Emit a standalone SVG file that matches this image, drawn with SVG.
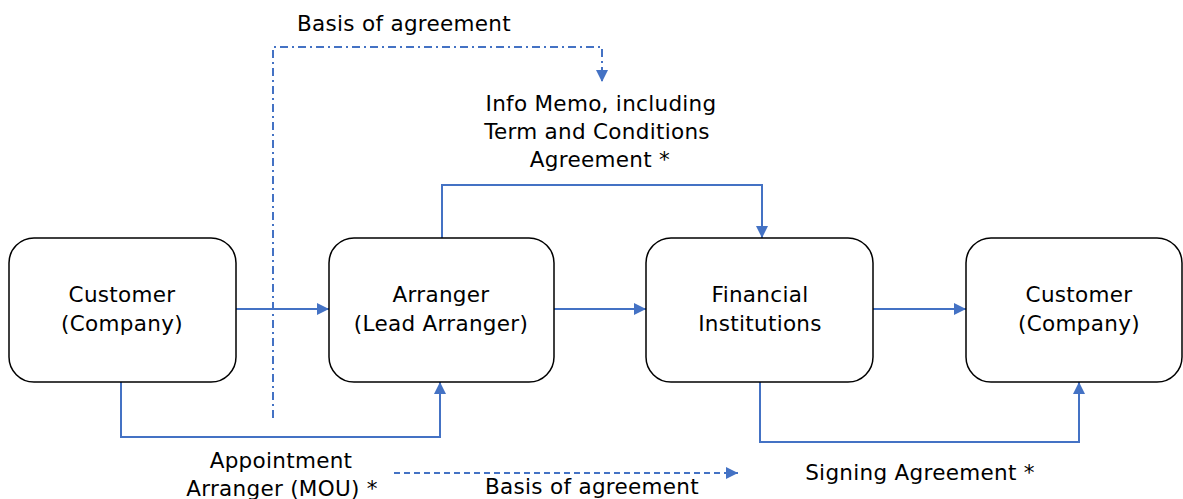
<svg xmlns="http://www.w3.org/2000/svg" width="1183" height="499" viewBox="0 0 1183 499">
<style>
.box{fill:#fff;stroke:#000;stroke-width:1.5}
text{font-family:"DejaVu Sans",sans-serif;font-size:21.5px;letter-spacing:0.3px;fill:#000;text-anchor:middle}
.c{fill:none;stroke:#4472c4;stroke-width:2}
</style>
<defs>
<marker id="a" viewBox="0 0 10 10" refX="10" refY="5" markerWidth="12" markerHeight="12" markerUnits="userSpaceOnUse" orient="auto"><path d="M0,0L10,5L0,10z" fill="#4472c4"/></marker>
</defs>
<g id="connectors">
<path class="c" d="M236,309H329" marker-end="url(#a)"/>
<path class="c" d="M554,309H646" marker-end="url(#a)"/>
<path class="c" d="M873,309H966" marker-end="url(#a)"/>
<path class="c" d="M442,238V185H762V238" marker-end="url(#a)"/>
<path class="c" d="M121,382V437H440V382" marker-end="url(#a)"/>
<path class="c" d="M760,382V442H1079V382" marker-end="url(#a)"/>
<path class="c" d="M273,418V47H602V82" stroke-dasharray="8,4,2,4" stroke-width="1.5" marker-end="url(#a)"/>
<path class="c" d="M394,473H738" stroke-dasharray="6,4" stroke-width="1.5" marker-end="url(#a)"/>
</g>
<g id="n1"><rect class="box" x="9" y="238" width="227" height="144" rx="25"/><text x="122" y="302">Customer</text><text x="122" y="331">(Company)</text></g>
<g id="n2"><rect class="box" x="329" y="238" width="225" height="144" rx="25"/><text x="441" y="302">Arranger</text><text x="441" y="331">(Lead Arranger)</text></g>
<g id="n3"><rect class="box" x="646" y="238" width="227" height="144" rx="25"/><text x="760" y="302">Financial</text><text x="760" y="331">Institutions</text></g>
<g id="n4"><rect class="box" x="966" y="238" width="216" height="144" rx="25"/><text x="1079" y="302">Customer</text><text x="1079" y="331">(Company)</text></g>
<g id="labels">
<text x="404" y="31">Basis of agreement</text>
<text x="601" y="111">Info Memo, including</text>
<text x="597" y="139">Term and Conditions</text>
<text x="600" y="167">Agreement *</text>
<text x="281" y="468">Appointment</text>
<text x="282" y="496">Arranger (MOU) *</text>
<text x="592" y="494">Basis of agreement</text>
<text x="920" y="480">Signing Agreement *</text>
</g>
</svg>
